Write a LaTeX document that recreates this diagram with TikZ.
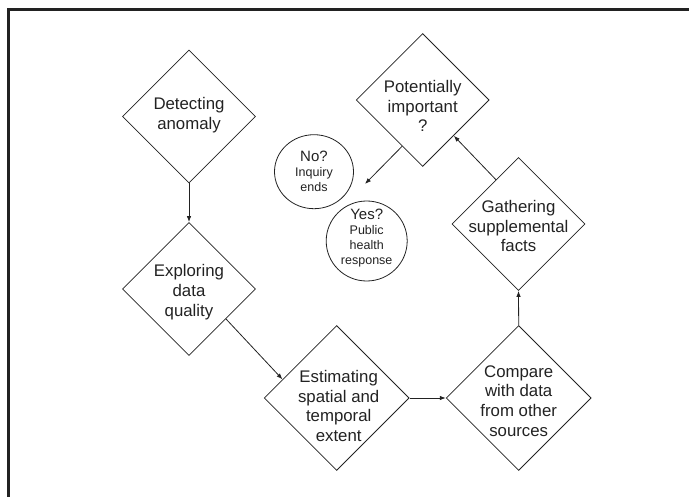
\documentclass[tikz,border=0pt]{standalone}
\usepackage{fontspec}
\setmainfont{Liberation Sans}
\usepackage{tikz}
\usetikzlibrary{shapes.geometric}
\usetikzlibrary{arrows.meta}
\definecolor{ink}{HTML}{222222}

\begin{document}
\begin{tikzpicture}[
    x=1pt, y=-1pt,
    stage/.style={
        draw=ink, line width=0.8pt, diamond, inner sep=0pt,
        minimum width=133pt, minimum height=133pt
    },
    big stage/.style={
        stage, minimum width=145pt, minimum height=145pt
    },
    stage text/.style={
        align=center, text=ink, inner sep=0pt,
        font=\fontsize{16.8}{19.7}\selectfont
    },
    outcome/.style={
        draw=ink, line width=0.8pt, ellipse, inner sep=0pt
    },
    outcome text/.style={
        align=center, text=ink, inner sep=0pt,
        font=\fontsize{12.5}{15}\selectfont
    },
    flow arrow/.style={
        draw=ink, line width=0.8pt, -{Latex[length=6pt,width=4.5pt]}
    }
  ]

  \useasboundingbox (0,0) rectangle (689,497);
  \draw[ink, line width=2.5pt] (8.3,497) -- (8.3,9.3) -- (689,9.3);

  \node[stage, label={[stage text, yshift=1pt]center:{Detecting\\anomaly}}] (detect) at (189,116.5) {};
  \node[stage, label={[stage text, yshift=-3pt]center:{Exploring\\data\\quality}}] (explore) at (189,289) {};
  \node[big stage, label={[stage text, xshift=2pt, yshift=-8pt]center:{Estimating\\spatial and\\temporal\\extent}}] (estimate) at (336.7,398) {};
  \node[big stage, label={[stage text, yshift=-3pt]center:{Compare\\with data\\from other\\sources}}] (compare) at (518.7,398) {};
  \node[stage, label={[stage text, yshift=-2pt]center:{Gathering\\supplemental\\facts}}] (gather) at (518.5,224) {};
  \node[stage, label={[stage text, yshift=-6pt]center:{Potentially\\important\\?}}] (potential) at (422.7,100) {};

  \node[outcome, minimum width=79pt, minimum height=74pt,
        label={[outcome text]center:{{\fontsize{15}{16}\selectfont No?}\\Inquiry\\ends}}] (noend) at (314,171.7) {};
  \node[outcome, minimum width=81pt, minimum height=80pt,
        label={[outcome text, yshift=3pt]center:{{\fontsize{15}{16}\selectfont Yes?}\\Public\\health\\response}}] (yesresp) at (366.7,241) {};

  \coordinate (answer) at (365,184);

  \draw[flow arrow] (detect.south) -- (explore.north);
  \draw[flow arrow] (explore.-39) -- (estimate.161);
  \draw[flow arrow] (estimate.east) -- (compare.west);
  \draw[flow arrow] (compare.north) -- (gather.south);
  \draw[flow arrow] (gather.117) -- (potential.-49);
  \draw[flow arrow] (potential.-114) -- (answer);

\end{tikzpicture}
\end{document}
